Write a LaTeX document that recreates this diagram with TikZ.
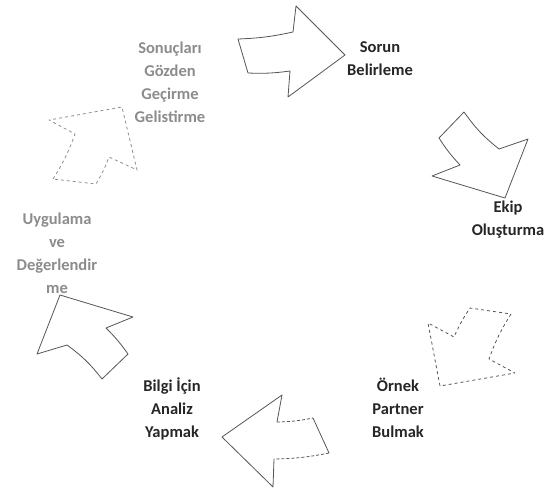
\documentclass[tikz,border=0pt]{standalone}
\usepackage{fontspec}
\setmainfont{Carlito}
\definecolor{darktext}{HTML}{262626}
\definecolor{fadetext}{HTML}{8C8C8C}
\definecolor{arrowline}{HTML}{555555}
\definecolor{fadeline}{HTML}{8F8F8F}

\begin{document}
\begin{tikzpicture}[x=1pt,y=-1pt,
    stagelabel/.style={align=center,text=darktext,
      font=\bfseries\fontsize{16.5}{23}\selectfont},
    fadedlabel/.style={stagelabel,text=fadetext},
    cyclearrow/.style={draw=arrowline,line width=0.8pt,line join=round},
    fadedarrow/.style={cyclearrow,draw=fadeline}]
  \useasboundingbox (0,0) rectangle (549,490);

  % labels round the cycle
  \node[fadedlabel] (sonuc) at (170,82) {Sonuçları\\Gözden\\Geçirme\\Gelistirme};
  \node[stagelabel] (sorun) at (380,59) {Sorun\\Belirleme};
  \node[stagelabel] (ekip) at (508,220) {Ekip\\Oluşturma};
  \node[stagelabel] (ornek) at (398,408) {Örnek\\Partner\\Bulmak};
  \node[stagelabel] (bilgi) at (172,409) {Bilgi İçin\\Analiz\\Yapmak};
  \node[fadedlabel] (uygula) at (57,253) {Uygulama\\ve\\Değerlendir\\me};

  % curved arrows, clockwise
  \draw[cyclearrow] (238,39) to[bend right=5] (293,32) -- (296,6) -- (345,55)
    -- (288,97) -- (290,71) to[bend left=5] (248,73) -- cycle;
  \draw[cyclearrow] (464,112) to[bend right=8] (499,149) -- (528,139) -- (505,198)
    -- (432,176) -- (460,165) to[bend left=5] (439,138) -- cycle;
  \draw[cyclearrow,dashed] (511,314) to[bend right=6] (489,359) -- (515,373)
    -- (440,386) -- (428,323) -- (454,337) to[bend left=5] (470,308) -- cycle;
  \draw[cyclearrow] (274,459) -- (273,487) -- (222,437) -- (282,395) -- (277,422);
  \draw[cyclearrow,densely dashed] (277,422) to[bend right=5] (313,418);
  \draw[cyclearrow] (313,418) -- (329,453);
  \draw[cyclearrow,densely dashed] (329,453) to[bend left=5] (274,459);
  \draw[cyclearrow] (102,379) to[bend right=8] (67,345) -- (37,354) -- (60,295)
    -- (133,317) -- (106,328) to[bend left=5] (128,354) -- cycle;
  \draw[fadedarrow,dashed] (53,179) to[bend right=6] (75,134) -- (49,120)
    -- (122,107) -- (137,170) -- (109,157) to[bend left=5] (96,184) -- cycle;
\end{tikzpicture}
\end{document}
